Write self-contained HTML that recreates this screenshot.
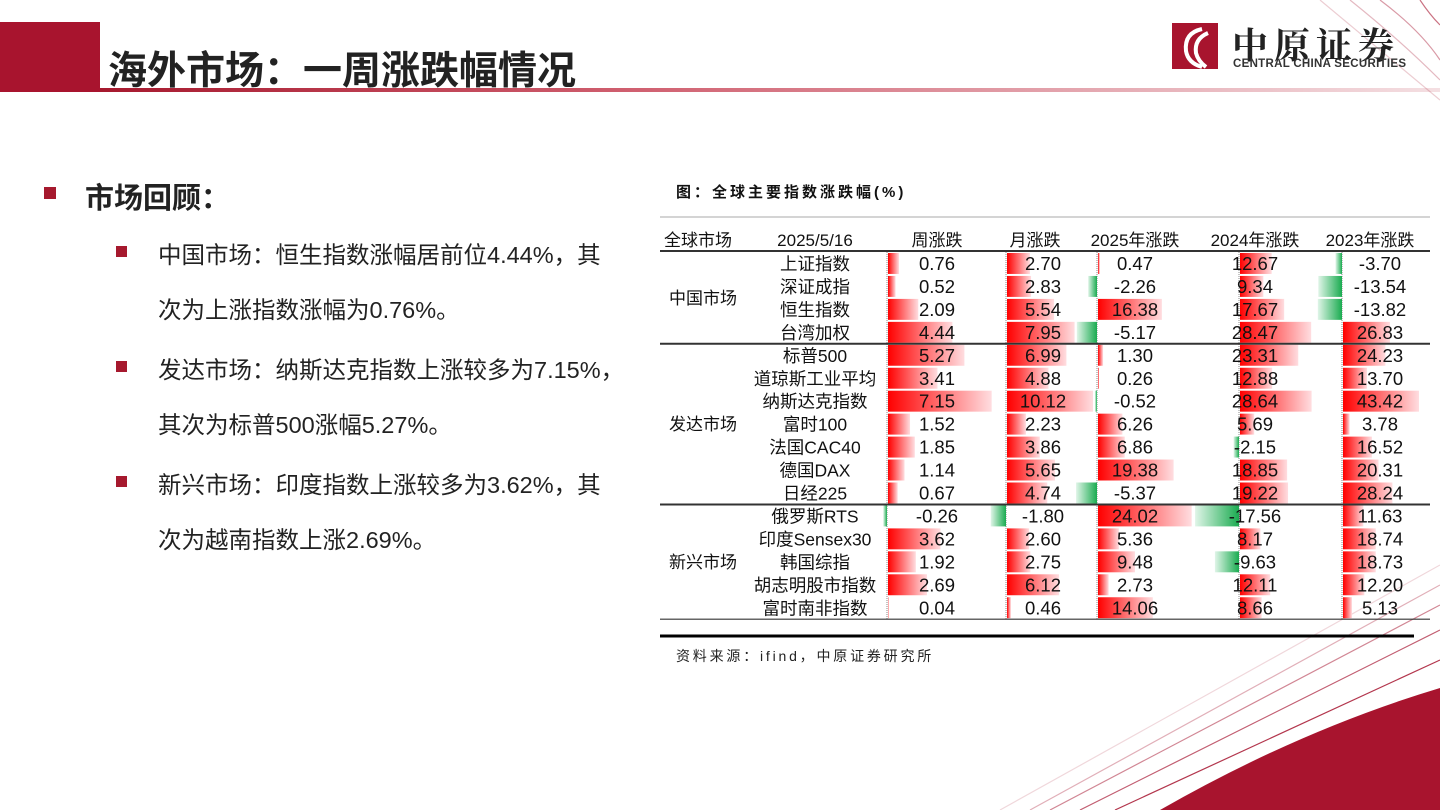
<!DOCTYPE html>
<html><head><meta charset="utf-8">
<style>
*{margin:0;padding:0;box-sizing:border-box}
body{width:1440px;height:810px;overflow:hidden;background:#fff;position:relative;font-family:"Liberation Sans","Noto Sans CJK SC",sans-serif;color:#111}
.abs{position:absolute}
.li{position:absolute;left:158px;font-size:23.5px;color:#222;white-space:nowrap}
.sq{position:absolute;width:12px;height:12px;background:#a6192e}
</style></head><body>
<svg class="abs" style="left:0;top:0" width="1440" height="810">
<defs><linearGradient id="tl" x1="0" x2="1"><stop offset="0" stop-color="#a6192e"/><stop offset="0.4" stop-color="#d06070"/><stop offset="1" stop-color="#f4dfe2"/></linearGradient></defs>
<rect x="0" y="22" width="100" height="70" fill="#a8142e"/>
<rect x="100" y="88" width="1340" height="4" fill="url(#tl)"/>
<g fill="none" stroke="#b3364d" stroke-width="1.2">
<path d="M1380 0 Q1420 30 1440 60" opacity="0.5"/>
<path d="M1350 0 Q1400 40 1440 80" opacity="0.35"/>
<path d="M1320 0 Q1380 50 1440 100" opacity="0.25"/>
<path d="M1420 0 Q1430 15 1440 25" opacity="0.7"/>
<path d="M1000 810 L1440 565" opacity="0.2"/>
<path d="M1030 810 L1440 585" opacity="0.4"/>
<path d="M1050 810 L1440 605" opacity="0.6"/>
<path d="M1080 810 L1440 630" opacity="0.8"/>
<path d="M1115 810 L1440 660" opacity="1"/>
</g>
<path d="M1160 810 Q1300 730 1440 688 L1440 810 Z" fill="#a8142e"/>
</svg>
<div class="abs" style="left:108px;top:40px;font-size:39px;font-weight:bold;color:#222">海外市场：一周涨跌幅情况</div>
<div class="abs" style="left:1172px;top:23px;width:46px;height:46px;background:#a8142e">
<svg width="46" height="46"><path d="M30 6 Q12 10 14 28 Q16 40 30 44 M36 10 Q22 16 24 30 Q26 38 34 44" stroke="#fff" stroke-width="4" fill="none"/></svg></div>
<div class="abs" style="left:1232px;top:18px;font-size:36px;font-family:'Noto Serif CJK SC',serif;font-weight:bold;color:#222;letter-spacing:6px">中原证券</div>
<div class="abs" style="left:1233px;top:58px;font-size:11.5px;font-weight:bold;color:#333;letter-spacing:0.3px">CENTRAL CHINA SECURITIES</div>

<div class="sq" style="left:44px;top:187px"></div>
<div class="abs" style="left:85px;top:175px;font-size:29px;font-weight:bold;color:#222">市场回顾：</div>
<div class="sq" style="left:116px;top:246px;width:11px;height:11px"></div>
<div class="li" style="top:236px">中国市场：恒生指数涨幅居前位4.44%，其</div>
<div class="li" style="top:291px">次为上涨指数涨幅为0.76%。</div>
<div class="sq" style="left:116px;top:361px;width:11px;height:11px"></div>
<div class="li" style="top:351px">发达市场：纳斯达克指数上涨较多为7.15%，</div>
<div class="li" style="top:406px">其次为标普500涨幅5.27%。</div>
<div class="sq" style="left:116px;top:476px;width:11px;height:11px"></div>
<div class="li" style="top:466px">新兴市场：印度指数上涨较多为3.62%，其</div>
<div class="li" style="top:521px">次为越南指数上涨2.69%。</div>

<div class="abs" style="left:676px;top:181px;font-size:15px;font-weight:bold;letter-spacing:3px">图：全球主要指数涨跌幅(%)</div>
<div class="abs" style="left:676px;top:646px;font-size:14px;letter-spacing:2.8px;color:#222">资料来源：ifind，中原证券研究所</div>
<svg id="tbl" class="abs" style="left:0;top:0" width="1440" height="810"></svg>
<script>
const names=["上证指数","深证成指","恒生指数","台湾加权","标普500","道琼斯工业平均","纳斯达克指数","富时100","法国CAC40","德国DAX","日经225","俄罗斯RTS","印度Sensex30","韩国综指","胡志明股市指数","富时南非指数"];
const groups=["中国市场","发达市场","新兴市场"];
const groupSizes=[4,7,5];
const headers=["全球市场","2025/5/16","周涨跌","月涨跌","2025年涨跌","2024年涨跌","2023年涨跌"];
const week=[0.76,0.52,2.09,4.44,5.27,3.41,7.15,1.52,1.85,1.14,0.67,-0.26,3.62,1.92,2.69,0.04];
const month=[2.70,2.83,5.54,7.95,6.99,4.88,10.12,2.23,3.86,5.65,4.74,-1.80,2.60,2.75,6.12,0.46];
const y2025=[0.47,-2.26,16.38,-5.17,1.30,0.26,-0.52,6.26,6.86,19.38,-5.37,24.02,5.36,9.48,2.73,14.06];
const y2024=[12.67,9.34,17.67,28.47,23.31,12.88,28.64,5.69,-2.15,18.85,19.22,-17.56,8.17,-9.63,12.11,8.66];
const y2023=[-3.70,-13.54,-13.82,26.83,24.23,13.70,43.42,3.78,16.52,20.31,28.24,11.63,18.74,18.73,12.20,5.13];
const svg=document.getElementById('tbl');const NS="http://www.w3.org/2000/svg";
function mk(t,a,p){const e=document.createElementNS(NS,t);for(const k in a)e.setAttribute(k,a[k]);(p||svg).appendChild(e);return e;}
const defs=mk('defs',{});
const gr=mk('linearGradient',{id:'gr',x1:0,x2:1},defs);mk('stop',{offset:0,'stop-color':'#ff0000'},gr);mk('stop',{offset:1,'stop-color':'#ffdde0'},gr);
const gg=mk('linearGradient',{id:'gg',x1:1,x2:0},defs);mk('stop',{offset:0,'stop-color':'#1aab50'},gg);mk('stop',{offset:1,'stop-color':'#e0f5e8'},gg);
const top0=252, rh=22.95;
const rowY=i=>top0+i*rh;
const cols=[{d:week,axis:887,s:14.5,cx:937},{d:month,axis:1006,s:8.5,cx:1043},{d:y2025,axis:1097,s:3.9,cx:1135},{d:y2024,axis:1239,s:2.5,cx:1255},{d:y2023,axis:1342,s:1.75,cx:1380}];
const colNames=["week","month","y2025","y2024","y2023"];
const hx=[698,815,937,1035,1135,1255,1370];
headers.forEach((h,i)=>{const t=mk('text',{x:hx[i],y:246,'text-anchor':'middle','font-size':17,fill:'#111'});t.textContent=h;

});
mk('line',{x1:660,x2:1430,y1:217,y2:217,stroke:'#aaa','stroke-width':1});
mk('line',{x1:660,x2:1430,y1:251,y2:251,stroke:'#333','stroke-width':2});
cols.forEach(c=>{mk('line',{x1:c.axis,x2:c.axis,y1:252,y2:619,stroke:'#888','stroke-width':1,'stroke-dasharray':'1,1'});});
cols.forEach((c,ci)=>{c.d.forEach((v,i)=>{const y=rowY(i)+1;const w=Math.abs(v)*c.s;
const r=mk('rect',{x:v>=0?c.axis+1:c.axis-w,y:y,width:w,height:rh-2,fill:v>=0?'url(#gr)':'url(#gg)'});


const t=mk('text',{x:c.cx,y:rowY(i)+18,'text-anchor':'middle','font-size':18.5,fill:'#111'});t.textContent=v.toFixed(2);

});});
names.forEach((n,i)=>{const t=mk('text',{x:815,y:rowY(i)+18,'text-anchor':'middle','font-size':17.5,fill:'#111'});t.textContent=n;

});
let st=0;groups.forEach((g,gi)=>{const n=groupSizes[gi];const cy=rowY(st)+n*rh/2;
const t=mk('text',{x:703,y:cy+6,'text-anchor':'middle','font-size':17,fill:'#111'});t.textContent=g;


st+=n;const ly=rowY(st);mk('line',{x1:660,x2:1430,y1:ly,y2:ly,stroke:'#333','stroke-width':gi==2?1.2:2});});
mk('line',{x1:660,x2:1414,y1:636,y2:636,stroke:'#000','stroke-width':3});
</script>
</body></html>
